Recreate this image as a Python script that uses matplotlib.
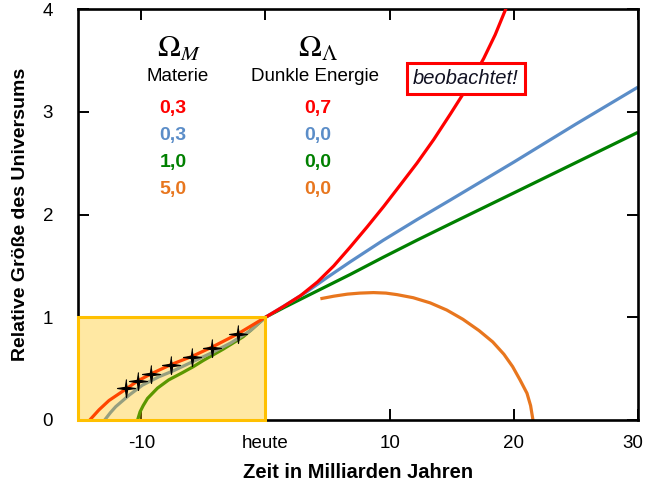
import matplotlib
matplotlib.use("Agg")
import matplotlib.pyplot as plt
import matplotlib.transforms as mtransforms
from matplotlib.patches import Rectangle
import numpy as np

plt.rcParams['font.family'] = ['Liberation Sans', 'DejaVu Sans']
plt.rcParams['mathtext.fontset'] = 'stix'

# ---- data ----
red_x = [-14.15, -13.4, -12.6, -11.25, -10.3, -9.2, -7.6, -5.9, -4.3, -2.2, 0.0,
         1.45, 2.82, 4.2, 5.5, 6.8, 8.19, 9.53, 10.87, 12.2, 13.55, 14.9, 15.95,
         16.8, 17.58, 18.5, 19.35, 19.7]
red_y = [0.0, 0.10, 0.19, 0.30, 0.38, 0.45, 0.54, 0.62, 0.71, 0.84, 1.0,
         1.105, 1.21, 1.345, 1.50, 1.68, 1.88, 2.08, 2.29, 2.50, 2.73, 2.98, 3.18,
         3.35, 3.52, 3.75, 4.0, 4.11]

blue_x = [-12.95, -12.5, -12.06, -11.0, -9.9, -8.6, -7.4, -6.0, -4.4, -2.8, -1.2, 0.0,
          1.5, 3.35, 5.0, 6.83, 9.49, 12.2, 14.87, 20.0, 25.0, 30.0]
blue_y = [0.0, 0.07, 0.13, 0.24, 0.34, 0.42, 0.48, 0.56, 0.65, 0.75, 0.87, 1.0,
          1.11, 1.25, 1.39, 1.54, 1.75, 1.95, 2.14, 2.51, 2.88, 3.24]

green_x = [-10.3, -10.1, -9.85, -9.5, -8.7, -7.8, -6.7, -5.8, -5.0, -3.4, -1.8, 0.0,
           1.5, 3.4, 6.8, 9.5, 12.2, 14.9, 20.0, 25.0, 30.0]
green_y = [0.0, 0.08, 0.14, 0.21, 0.31, 0.39, 0.46, 0.52, 0.58, 0.69, 0.81, 1.0,
           1.095, 1.21, 1.415, 1.585, 1.75, 1.91, 2.21, 2.505, 2.80]

orange_x = [4.42, 5.5, 6.6, 7.6, 8.7, 9.7, 10.6, 11.9, 13.26, 14.6, 15.9, 17.2,
            18.3, 19.2, 19.9, 20.5, 21.06, 21.35, 21.54]
orange_y = [1.18, 1.205, 1.225, 1.235, 1.24, 1.235, 1.22, 1.19, 1.14, 1.07, 0.98, 0.87,
            0.76, 0.64, 0.52, 0.39, 0.26, 0.14, 0.0]

obs_x = [-11.25, -10.3, -9.25, -7.6, -5.9, -4.3, -2.25]
obs_y = [0.31, 0.38, 0.45, 0.54, 0.61, 0.70, 0.84]

omega_m = ['0,3', '0,3', '1,0', '5,0']
omega_l = ['0,7', '0,0', '0,0', '0,0']
colors = ['#FF0000', '#5B8DC8', '#008000', '#E8761E']

xticks = [-10, 0, 10, 20, 30]
xticklabels = ['-10', 'heute', '10', '20', '30']
yticks = [0, 1, 2, 3, 4]

# ---- figure ----
fig = plt.figure(figsize=(6.46, 4.84), dpi=100)
ax = fig.add_axes([78/646, 64/484, 560/646, 411/484])

lw = 2.3
ax.plot(red_x, red_y, color=colors[0], lw=lw, zorder=3, solid_capstyle='butt')
ax.plot(blue_x, blue_y, color=colors[1], lw=lw, zorder=2.5, solid_capstyle='butt')
ax.plot(green_x, green_y, color=colors[2], lw=lw, zorder=2.4, solid_capstyle='butt')
ax.plot(orange_x, orange_y, color=colors[3], lw=lw, zorder=2.3, solid_capstyle='butt')

ax.set_xlim(-15.1, 30)
ax.set_ylim(0, 4)

# yellow "observed" box
ax.add_patch(Rectangle((-15.1, 0), 15.1, 1.0, facecolor='#FFC000', alpha=0.36,
                       edgecolor='none', zorder=4, clip_on=False))
ax.add_patch(Rectangle((-15.1, 0), 15.1, 1.0, facecolor='none',
                       edgecolor='#FFC000', lw=2.2, zorder=6, clip_on=False))

# star markers
ang = np.linspace(0, 2*np.pi, 9)[:-1] + np.pi/2
rad = np.array([1.0, 0.18] * 4)
star = list(zip(rad*np.cos(ang), rad*np.sin(ang)))
ax.plot(obs_x, obs_y, linestyle='none', marker=star, markersize=13,
        color='black', markeredgewidth=0.8, zorder=7)

# legend-like table
ax.text(-7.0, 3.61, r'$\Omega_M$', fontsize=22, ha='center', va='center')
ax.text(4.2, 3.61, r'$\Omega_\Lambda$', fontsize=22, ha='center', va='center')
ax.text(-7.05, 3.34, 'Materie', fontsize=13.5, ha='center', va='center')
ax.text(4.0, 3.34, 'Dunkle Energie', fontsize=13.5, ha='center', va='center')
row_y = [3.03, 2.77, 2.51, 2.24]
for ym, m, l, c in zip(row_y, omega_m, omega_l, colors):
    ax.text(-7.45, ym, m, fontsize=14, fontweight='bold', color=c,
            ha='center', va='center')
    ax.text(4.2, ym, l, fontsize=14, fontweight='bold', color=c,
            ha='center', va='center')

ax.text(16.15, 3.32, 'beobachtet!', fontsize=14.5, style='italic',
        color='#111122', ha='center', va='center', zorder=8,
        bbox=dict(boxstyle='square,pad=0.3', facecolor='white',
                  edgecolor='#FF0000', lw=2.2))

# axes styling
for s in ax.spines.values():
    s.set_linewidth(1.9)
ax.set_xticks(xticks)
ax.set_xticklabels(xticklabels)
ax.set_yticks(yticks)
ax.tick_params(axis='both', direction='in', length=8, width=1.4,
               top=True, right=True, labelsize=13.5)
ax.tick_params(axis='x', pad=11)
ax.tick_params(axis='y', pad=18)

# nudge the last x label so it stays inside the canvas
last = ax.get_xticklabels()[-1]
last.set_transform(last.get_transform() +
                   mtransforms.ScaledTranslation(-5/100, 0, fig.dpi_scale_trans))

ax.set_xlabel('Zeit in Milliarden Jahren', fontsize=14.5, fontweight='bold',
              labelpad=8)
ax.set_ylabel('Relative Größe des Universums', fontsize=14, fontweight='bold',
              labelpad=10)

fig.savefig('out.png', dpi=100)
